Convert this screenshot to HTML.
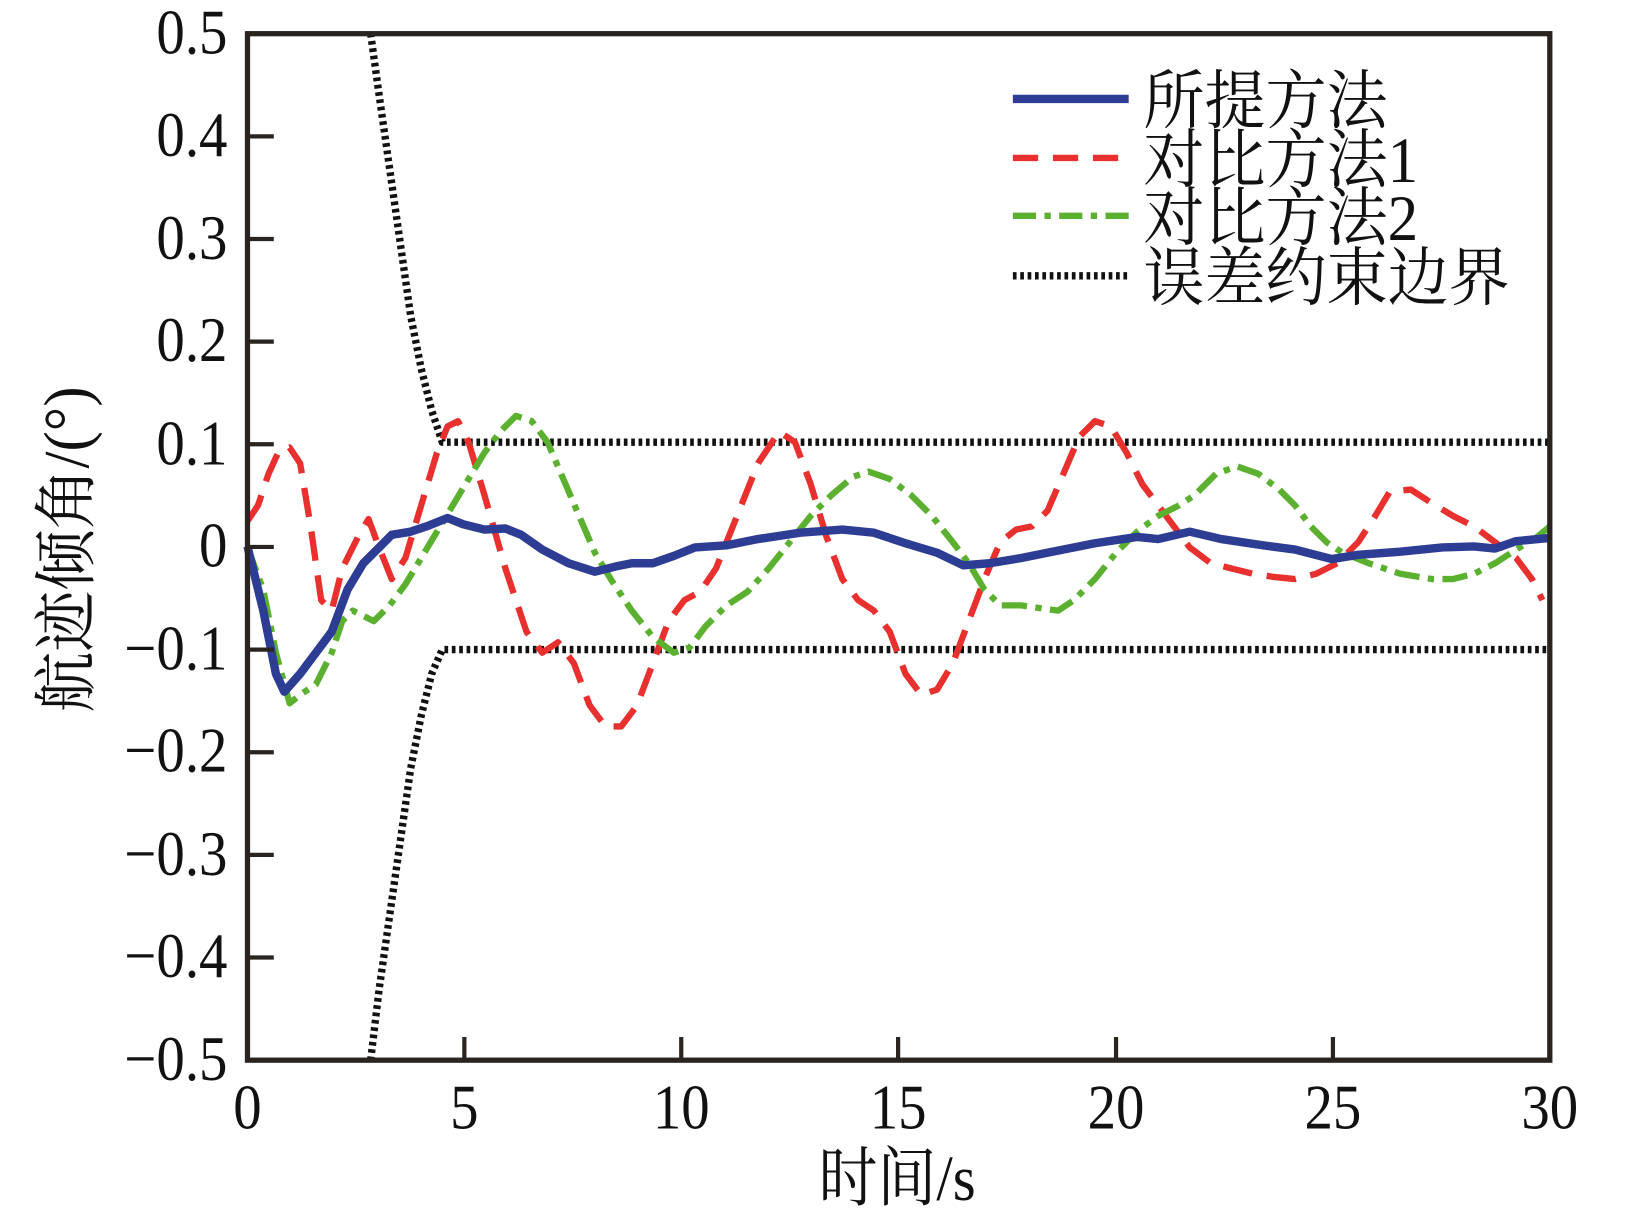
<!DOCTYPE html>
<html><head><meta charset="utf-8"><style>html,body{margin:0;padding:0;background:#fff}svg{display:block}</style></head>
<body>
<svg width="1652" height="1216" viewBox="0 0 1569 1155" xmlns="http://www.w3.org/2000/svg" font-family="'Liberation Serif','Noto Serif CJK SC',serif">
<rect width="1569" height="1155" fill="#fff"/>
<g fill="none" stroke-linejoin="round">
<polyline stroke="#111" stroke-width="7" stroke-dasharray="3.5 3.5" points="352,32 360,90 370,160 380,230 390,300 400,350 410,390 420,420 1472,420"/>
<polyline stroke="#111" stroke-width="7" stroke-dasharray="3.5 3.5" points="352,1007 360,940 370,870 380,800 390,730 400,680 410,640 420,617 1472,617"/>
<polyline stroke="#e8302e" stroke-width="6" stroke-dasharray="28 14" points="235,495 245,480 255,450 265,428 275,425 285,440 295,500 305,570 315,580 325,540 340,510 350,493 360,520 372,550 385,530 400,480 415,430 425,405 435,400 445,420 460,470 480,540 500,600 515,620 530,610 545,630 560,670 575,690 590,690 605,670 620,630 635,590 650,570 665,562 680,540 700,490 720,440 740,410 755,420 770,460 785,510 800,550 815,570 830,580 845,600 860,640 875,660 890,655 905,630 920,590 935,550 950,515 965,503 980,500 995,485 1010,450 1025,415 1040,400 1055,405 1070,430 1085,460 1100,480 1115,500 1130,520 1150,535 1170,540 1190,545 1210,548 1230,550 1250,545 1270,535 1290,515 1305,492 1320,467 1340,465 1360,478 1380,490 1400,500 1420,515 1440,530 1455,550 1465,570"/>
<polyline stroke="#5cb030" stroke-width="6" stroke-dasharray="24 8 6 8" points="235,520 250,560 262,620 275,668 285,660 300,650 315,620 325,590 335,580 345,585 355,590 370,575 385,555 400,530 415,505 430,480 445,455 460,430 475,410 490,395 505,400 520,420 535,455 550,490 565,525 580,550 600,580 620,605 640,620 655,615 670,595 690,575 710,562 730,540 750,515 770,490 790,470 810,453 825,448 845,455 865,470 885,490 905,515 920,535 935,560 950,575 970,575 990,578 1005,580 1020,570 1040,550 1060,525 1080,505 1100,490 1120,480 1135,470 1155,450 1175,443 1195,450 1215,465 1230,480 1245,500 1260,515 1275,525 1300,535 1330,545 1360,550 1380,550 1400,545 1420,535 1440,522 1460,510 1472,500"/>
<polyline stroke="#2e3d94" stroke-width="8" points="235,519 250,580 262,640 270,657 285,640 300,620 315,600 330,560 345,535 360,520 372,508 390,505 405,500 425,492 440,498 460,503 480,502 495,508 515,522 540,535 565,543 585,538 600,535 620,535 640,528 660,520 690,518 720,512 760,506 800,503 830,506 860,516 890,525 915,537 940,535 970,530 1000,524 1040,516 1080,510 1100,512 1130,505 1160,512 1200,518 1230,522 1265,531 1290,527 1330,524 1370,520 1400,519 1420,521 1440,514 1472,511"/>
</g>
<rect x="235" y="32" width="1237" height="975" fill="none" stroke="#2a2420" stroke-width="5"/>
<g stroke="#2a2420" stroke-width="4">
<line x1="235" y1="129.5" x2="260" y2="129.5"/><line x1="235" y1="227" x2="260" y2="227"/><line x1="235" y1="324.5" x2="260" y2="324.5"/><line x1="235" y1="422" x2="260" y2="422"/><line x1="235" y1="519.5" x2="260" y2="519.5"/><line x1="235" y1="617" x2="260" y2="617"/><line x1="235" y1="714.5" x2="260" y2="714.5"/><line x1="235" y1="812" x2="260" y2="812"/><line x1="235" y1="909.5" x2="260" y2="909.5"/>
<line x1="441" y1="1007" x2="441" y2="985"/><line x1="647" y1="1007" x2="647" y2="985"/><line x1="853" y1="1007" x2="853" y2="985"/><line x1="1060" y1="1007" x2="1060" y2="985"/><line x1="1266" y1="1007" x2="1266" y2="985"/>
</g>
<g font-size="54" fill="#111" text-anchor="end">
<text transform="translate(216,51) scale(1,1.12)">0.5</text><text transform="translate(216,148) scale(1,1.12)">0.4</text><text transform="translate(216,246) scale(1,1.12)">0.3</text><text transform="translate(216,343) scale(1,1.12)">0.2</text><text transform="translate(216,441) scale(1,1.12)">0.1</text><text transform="translate(216,538) scale(1,1.12)">0</text><text transform="translate(216,636) scale(1,1.12)">−0.1</text><text transform="translate(216,733) scale(1,1.12)">−0.2</text><text transform="translate(216,831) scale(1,1.12)">−0.3</text><text transform="translate(216,928) scale(1,1.12)">−0.4</text><text transform="translate(216,1026) scale(1,1.12)">−0.5</text>
</g>
<g font-size="54" fill="#111" text-anchor="middle">
<text transform="translate(235,1072) scale(1,1.12)">0</text><text transform="translate(441,1072) scale(1,1.12)">5</text><text transform="translate(647,1072) scale(1,1.12)">10</text><text transform="translate(853,1072) scale(1,1.12)">15</text><text transform="translate(1060,1072) scale(1,1.12)">20</text><text transform="translate(1266,1072) scale(1,1.12)">25</text><text transform="translate(1472,1072) scale(1,1.12)">30</text>
<text transform="translate(852,1140) scale(1,1.1)" font-size="56">时间/s</text>
<text transform="translate(84,522) rotate(-90) scale(1,1.05)" font-size="58">航迹倾角/(°)</text>
</g>
<g fill="none">
<line x1="962" y1="94" x2="1072" y2="94" stroke="#2e3d94" stroke-width="8"/>
<line x1="962" y1="150" x2="1072" y2="150" stroke="#e8302e" stroke-width="6" stroke-dasharray="24 14"/>
<line x1="962" y1="205" x2="1072" y2="205" stroke="#5cb030" stroke-width="6" stroke-dasharray="22 8 6 8"/>
<line x1="962" y1="262" x2="1072" y2="262" stroke="#111" stroke-width="7" stroke-dasharray="3.5 3.5"/>
</g>
<g font-size="58" fill="#111">
<text transform="translate(1086,117) scale(1,1.05)">所提方法</text><text transform="translate(1086,173) scale(1,1.05)">对比方法1</text><text transform="translate(1086,228) scale(1,1.05)">对比方法2</text><text transform="translate(1086,285) scale(1,1.05)">误差约束边界</text>
</g>
</svg>
</body></html>
